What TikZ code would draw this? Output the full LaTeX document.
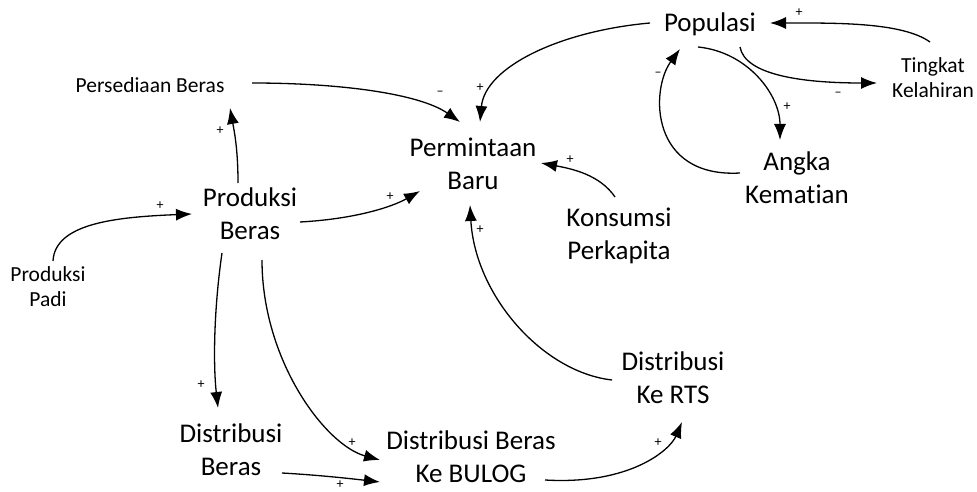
\documentclass[tikz,border=0pt]{standalone}
\usepackage{fontspec}
\setmainfont{Carlito}[Ligatures=NoCommon]
\usetikzlibrary{arrows.meta}
\tikzset{
  big/.style={align=center,inner sep=0pt,font=\fontsize{27}{33}\selectfont},
  small/.style={align=center,inner sep=0pt,font=\fontsize{21.5}{25}\selectfont},
  lbl/.style={inner sep=0pt,font=\fontsize{14}{14}\selectfont},
  arr/.style={line width=1.3pt,-{Latex[length=16pt,width=12pt]}},
}
\begin{document}
\begin{tikzpicture}[x=1pt,y=-1pt]
\useasboundingbox (0,0) rectangle (977,492);
% nodes
\node[big]   (pop) at (710,24)  {Populasi};
\node[small] (tk)  at (933,78)  {Tingkat\\Kelahiran};
\node[big]   (ak)  at (797,178) {Angka\\Kematian};
\node[small] (ps)  at (150,85)  {Persediaan Beras};
\node[big]   (pm)  at (473,164) {Permintaan\\Baru};
\node[big]   (pb)  at (250,214) {Produksi\\Beras};
\node[small] (pp)  at (48,287)  {Produksi\\Padi};
\node[big]   (ko)  at (619,236) {Konsumsi\\Perkapita};
\node[big]   (rts) at (673,378) {Distribusi\\Ke RTS};
\node[big]   (db)  at (231,450) {Distribusi\\Beras};
\node[big]   (bl)  at (471,457) {Distribusi Beras\\Ke BULOG};
% connectors
\draw[arr] ([shift={(102,-2)}]ps.center) .. controls +(90,0) and +(-40,-28) .. ([shift={(-13,-42)}]pm.center);
\draw[arr] ([shift={(-60,-1)}]pop.center) .. controls +(-90,8) and +(5,-55) .. ([shift={(7,-42)}]pm.center);
\draw[arr] ([shift={(-12,-31)}]pb.center) .. controls +(0,-35) and +(4,22) .. ([shift={(80,23)}]ps.center);
\draw[arr] ([shift={(50,8)}]pb.center) .. controls +(55,-3) and +(-28,16) .. ([shift={(-53,27)}]pm.center);
\draw[arr] ([shift={(5,-26)}]pp.center) .. controls +(2,-38) and +(-75,3) .. ([shift={(-58,0)}]pb.center);
\draw[arr] ([shift={(-4,-39)}]ko.center) .. controls +(-15,-22) and +(32,6) .. ([shift={(68,-1)}]pm.center);
\draw[arr] ([shift={(-61,2)}]rts.center) .. controls +(-70,-8) and +(5,90) .. ([shift={(-3,41)}]pm.center);
\draw[arr] ([shift={(-28,39)}]pb.center) .. controls +(-8,55) and +(-5,-45) .. ([shift={(-13,-42)}]db.center);
\draw[arr] ([shift={(12,46)}]pb.center) .. controls +(0,100) and +(-55,-15) .. ([shift={(-91,3)}]bl.center);
\draw[arr] ([shift={(51,23)}]db.center) .. controls +(35,2) and +(-35,-4) .. ([shift={(-91,25)}]bl.center);
\draw[arr] ([shift={(74,23)}]bl.center) .. controls +(85,5) and +(-12,28) .. ([shift={(9,44)}]rts.center);
\draw[arr] ([shift={(30,23)}]pop.center) .. controls +(5,28) and +(-75,0) .. ([shift={(-56,5)}]tk.center);
\draw[arr] ([shift={(-3,-36)}]tk.center) .. controls +(-28,-20) and +(65,0) .. ([shift={(60,-1)}]pop.center);
\draw[arr] ([shift={(-12,23)}]pop.center) .. controls +(50,5) and +(0,-45) .. ([shift={(-17,-38)}]ak.center);
\draw[arr] ([shift={(-57,-5)}]ak.center) .. controls +(-90,5) and +(-30,41) .. ([shift={(-30,25)}]pop.center);
% polarity labels
\node[lbl] (l1)  at (440,93)  {–};
\node[lbl] (l2)  at (480,88)  {+};
\node[lbl] (l3)  at (220,131) {+};
\node[lbl] (l4)  at (390,197) {+};
\node[lbl] (l5)  at (160,206) {+};
\node[lbl] (l6)  at (570,160) {+};
\node[lbl] (l7)  at (480,230) {+};
\node[lbl] (l8)  at (201,385) {+};
\node[lbl] (l9)  at (352,443) {+};
\node[lbl] (l10) at (340,485) {+};
\node[lbl] (l11) at (658,443) {+};
\node[lbl] (l12) at (838,94)  {–};
\node[lbl] (l13) at (799,13)  {+};
\node[lbl] (l14) at (787,107) {+};
\node[lbl] (l15) at (658,74)  {–};
\end{tikzpicture}
\end{document}
